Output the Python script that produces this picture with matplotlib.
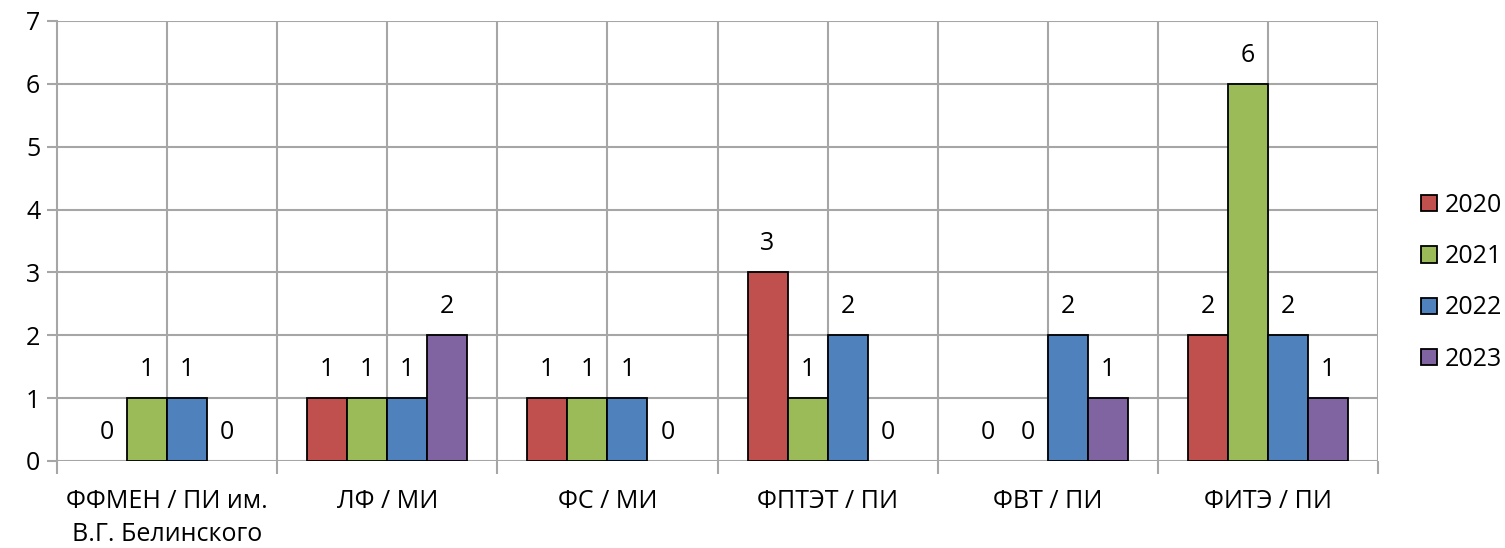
import matplotlib
matplotlib.use("Agg")
import matplotlib.pyplot as plt
import numpy as np

plt.rcParams['font.family'] = ['Open Sans', 'DejaVu Sans']

categories = ["ФФМЕН / ПИ им.\nВ.Г. Белинского", "ЛФ / МИ", "ФС / МИ",
              "ФПТЭТ / ПИ", "ФВТ / ПИ", "ФИТЭ / ПИ"]
years = ["2020", "2021", "2022", "2023"]
v2020 = [0, 1, 1, 3, 0, 2]
v2021 = [1, 1, 1, 1, 0, 6]
v2022 = [1, 1, 1, 2, 2, 2]
v2023 = [0, 2, 0, 0, 1, 1]
series = [v2020, v2021, v2022, v2023]
colors = ["#C0504D", "#9BBB59", "#4F81BD", "#8064A2"]

W, H, DPI = 1505, 548, 100
FS = 18
fig = plt.figure(figsize=(W / DPI, H / DPI), dpi=DPI)
ax = fig.add_axes([57 / W, 1 - 461 / H, (1378 - 57) / W, (461 - 21) / H])

grid_c = "#A6A6A6"
n = len(categories)
ax.set_xlim(0, n)
ax.set_ylim(0, 7)

# grid: horizontal at each unit, vertical at every half category
for y in range(1, 8):
    ax.axhline(y, color=grid_c, lw=1.5, zorder=0)
for x in np.arange(0.5, n + 0.01, 0.5):
    ax.axvline(x, color=grid_c, lw=1.5, zorder=0)

bw = 40 / 220
centers = np.arange(n) + 0.5
for k, (vals, c, yr) in enumerate(zip(series, colors, years)):
    xs = centers + (k - 1.5) * bw
    bars = ax.bar(xs, vals, width=bw, color=c, edgecolor="black", linewidth=1.3,
                  label=yr, zorder=3)
    for b, v in zip(bars, vals):
        if v == 0:
            b.set_linewidth(0)
    for x, v in zip(xs, vals):
        ax.annotate(str(v), (x, v), xytext=(0, 20.5), textcoords="offset points",
                    ha="center", va="center", fontsize=FS, color="black")

for s in ["top", "right", "bottom"]:
    ax.spines[s].set_visible(False)
ax.spines["left"].set_color(grid_c)
ax.spines["left"].set_linewidth(1.5)
ax.axhline(0, color=grid_c, lw=1.5, zorder=1)

ax.set_yticks(range(8))
ax.tick_params(axis="y", length=7, width=1.5, color=grid_c, labelsize=FS, pad=5)
ax.set_xticks(range(n + 1))
ax.set_xticklabels([])
ax.set_xticks(centers, minor=True)
ax.set_xticklabels(categories, minor=True, fontsize=FS, linespacing=1.45)
ax.tick_params(axis="x", which="major", length=9, width=1.5, color=grid_c)
ax.tick_params(axis="x", which="minor", length=0, pad=20)

leg = fig.legend(loc="upper left", bbox_to_anchor=(1411 / W, 1 - 183 / H),
                 frameon=False, fontsize=FS, handlelength=0.62, handleheight=0.62,
                 handletextpad=0.35, labelspacing=1.05, borderaxespad=0)
for p in leg.get_patches():
    p.set_edgecolor("black")
    p.set_linewidth(1.3)

fig.savefig("out.png", dpi=DPI)
